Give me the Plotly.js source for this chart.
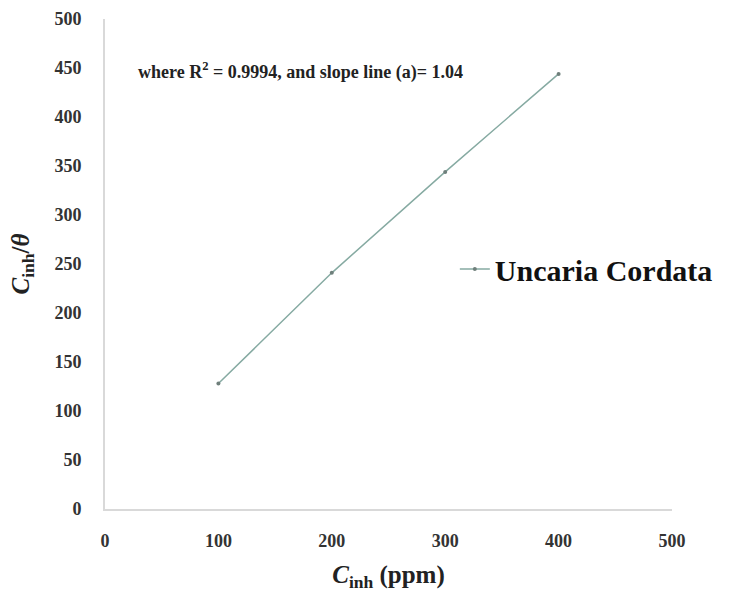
<!DOCTYPE html>
<html>
<head>
<meta charset="utf-8">
<script src="https://cdn.plot.ly/plotly-3.0.1.min.js"></script>
<style>html,body{margin:0;padding:0;background:#fff;}#chart{width:741px;height:601px;}</style>
</head>
<body>
<div id="chart"></div>
<script>
var seriesName = "Uncaria Cordata";
var cinh = [100, 200, 300, 400];
var cinhOverTheta = [128, 241, 344, 444];
var xTicks = [0, 100, 200, 300, 400, 500];
var yTicks = [0, 50, 100, 150, 200, 250, 300, 350, 400, 450, 500];
var noteText = "where R<sup>2</sup> = 0.9994, and slope line (a)= 1.04";

var serif = "Liberation Serif, Times New Roman, serif";

var trace = {
  x: cinh,
  y: cinhOverTheta,
  name: seriesName,
  type: "scatter",
  mode: "lines+markers",
  line: {color: "#86aaa2", width: 1.5},
  marker: {color: "#6f7f7b", size: 4, symbol: "circle"}
};

var layout = {
  width: 741, height: 601,
  margin: {l: 105, r: 69, t: 19, b: 92},
  paper_bgcolor: "#fff", plot_bgcolor: "#fff",
  showlegend: true,
  legend: {
    x: 0.617, y: 0.49, xanchor: "left", yanchor: "middle",
    font: {family: serif, size: 30, color: "#111", weight: "bold"},
    itemwidth: 30, bgcolor: "rgba(0,0,0,0)"
  },
  xaxis: {
    range: [0, 500], tickvals: xTicks, ticktext: xTicks.map(String),
    showgrid: false, zeroline: false, showline: true, linecolor: "#d9d9d9", linewidth: 2,
    ticks: "", ticklabelstandoff: 14,
    tickfont: {family: serif, size: 18, color: "#333", weight: "bold"},
    title: {text: "<b><i>C</i><sub>inh</sub> (ppm)</b>", font: {family: serif, size: 25, color: "#222"}, standoff: 16}
  },
  yaxis: {
    range: [0, 500], tickvals: yTicks, ticktext: yTicks.map(String),
    showgrid: false, zeroline: false, showline: true, linecolor: "#d9d9d9", linewidth: 2,
    ticks: "", ticklabelstandoff: 18,
    tickfont: {family: serif, size: 18, color: "#333", weight: "bold"},
    title: {text: "<b><i>C</i><sub>inh</sub>/<i>θ</i></b>", font: {family: serif, size: 25, color: "#222"}, standoff: 18}
  },
  annotations: [{
    xref: "paper", yref: "paper", x: 0.055, y: 0.893, xanchor: "left", yanchor: "middle",
    text: "<b>" + noteText + "</b>", showarrow: false,
    font: {family: serif, size: 18, color: "#222"}
  }]
};

Plotly.newPlot("chart", [trace], layout, {displayModeBar: false, staticPlot: true});
</script>
</body>
</html>
